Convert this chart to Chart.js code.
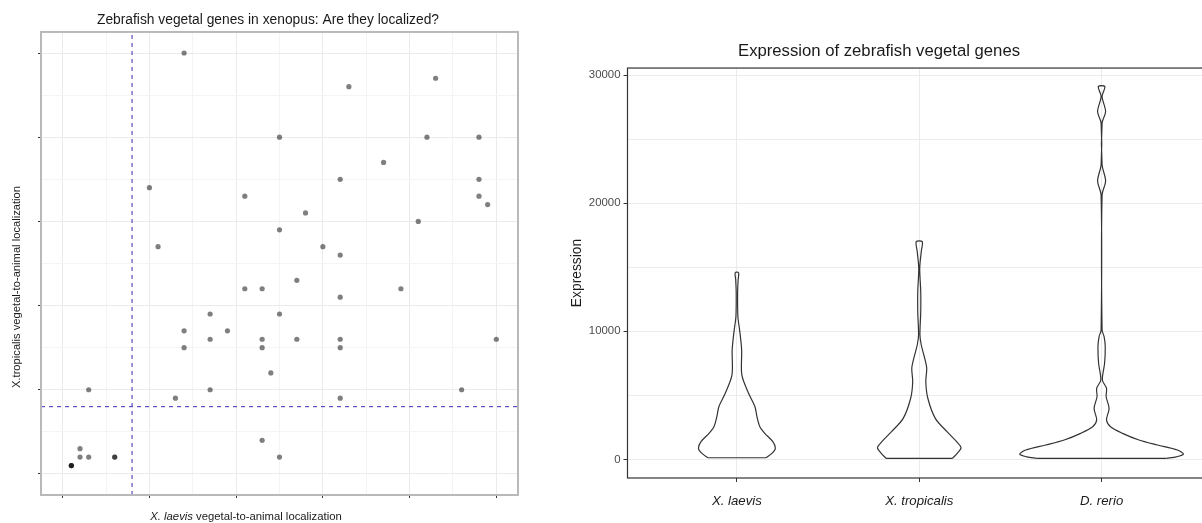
<!DOCTYPE html>
<html>
<head>
<meta charset="utf-8">
<script src="https://cdn.jsdelivr.net/npm/chart.js@4.4.1/dist/chart.umd.min.js"></script>
<style>
    html, body { margin: 0; padding: 0; background: #fff; overflow: hidden; }
    #scatterChart { position: absolute; left: 0; top: 0; }
    #violinChart { position: absolute; left: 540px; top: 0; }
</style>
</head>
<body>
<canvas id="scatterChart" width="536" height="523"></canvas>
<canvas id="violinChart" width="680" height="523"></canvas>
<script>
// ===== left panel: vegetal-to-animal localization per gene =====
const laevisLoc = [1.4, 4.3, 3.3, 2.5, 4.2, 4.8, 3.7, 3.2, 4.8, 1.0, 2.1, 4.8, 4.9, 2.8, 4.1, 2.5, 1.1, 3.0, 3.2,
    2.1, 2.3, 2.7, 3.9, 3.2, 1.7, 2.5, 1.4, 1.9, 1.7, 2.3, 2.7, 3.2, 5.0, 1.4, 2.3, 3.2, 2.4, 0.3, 1.7, 4.6,
    1.3, 3.2, 2.3, 2.5, 0.2, 0.2, 0.3, 0.6, 0.6, 0.1, 0.1, 0.1];
const tropicalisLoc = [5.0, 4.7, 4.6, 4.0, 4.0, 4.0, 3.7, 3.5, 3.5, 3.4, 3.3, 3.3, 3.2, 3.1, 3.0, 2.9, 2.7, 2.7, 2.6,
    2.2, 2.2, 2.3, 2.2, 2.1, 1.9, 1.9, 1.7, 1.7, 1.6, 1.6, 1.6, 1.6, 1.6, 1.5, 1.5, 1.5, 1.2, 1.0, 1.0, 1.0,
    0.9, 0.9, 0.4, 0.2, 0.3, 0.2, 0.2, 0.2, 0.2, 0.1, 0.1, 0.1];
const cutoffLaevis = 0.8;
const cutoffTropicalis = 0.8;
const locTicks = [0, 1, 2, 3, 4, 5];
const locGrid = [0, 0.5, 1, 1.5, 2, 2.5, 3, 3.5, 4, 4.5, 5];

// ===== right panel: expression violins (level -> half width) =====
const species = ['X. laevis', 'X. tropicalis', 'D. rerio'];
const laevisLevels = [125, 470, 860, 1380, 2030, 2550, 3330, 4110, 5160, 6590, 8540, 9970, 11140, 12970, 14010, 14580];
const laevisWidth = [0.159, 0.192, 0.211, 0.197, 0.153, 0.126, 0.110, 0.099, 0.064, 0.027, 0.026, 0.016, 0.0055, 0.0038, 0.0066, 0.0093];
const tropLevels = [80, 470, 910, 1380, 2160, 3200, 4770, 6060, 7110, 7890, 8930, 9710, 11530, 13090, 14920, 16220, 17000];
const tropWidth = [0.182, 0.208, 0.229, 0.205, 0.152, 0.088, 0.047, 0.036, 0.041, 0.030, 0.011, 0.0038, 0.0082, 0.0082, 0.0027, 0.011, 0.0164];
const rerioLevels = [80, 200, 410, 730, 1120, 1510, 2030, 2550, 3070, 3980, 4890, 5550, 6200, 7500, 8800, 9580, 10100,
    20650, 21740, 23000, 26250, 27160, 28330, 29110];
const rerioWidth = [0.356, 0.411, 0.449, 0.416, 0.307, 0.205, 0.115, 0.049, 0.027, 0.041, 0.025, 0.027, 0.0044, 0.0164, 0.020, 0.0137, 0.0027,
    0.0027, 0.022, 0.0027, 0.0027, 0.022, 0.0027, 0.018];
const exprTicks = [0, 10000, 20000, 30000];
const exprGrid = [0, 5000, 10000, 15000, 20000, 25000, 30000];

const FONT = '"Liberation Sans", Arial, Helvetica, sans-serif';

// border drawn round the panel, on top of the data (like ggplot)
const panelBorder = {
    id: 'panelBorder',
    afterDatasetsDraw(chart, args, opts) {
        const { ctx, chartArea: a } = chart;
        ctx.save();
        ctx.strokeStyle = opts.color;
        ctx.lineWidth = opts.width;
        ctx.strokeRect(a.left, a.top, a.right - a.left, a.bottom - a.top);
        ctx.restore();
    }
};

// axis titles of the scatter (x title mixes italic + plain)
const scatterTitles = {
    id: 'scatterTitles',
    afterDraw(chart) {
        const { ctx } = chart;
        ctx.save();
        ctx.fillStyle = '#1a1a1a';
        ctx.textBaseline = 'middle';
        ctx.textAlign = 'left';
        const part1 = 'X. laevis';
        const part2 = ' vegetal-to-animal localization';
        ctx.font = 'italic 11.3px ' + FONT;
        const w1 = ctx.measureText(part1).width;
        ctx.font = '11.3px ' + FONT;
        const w2 = ctx.measureText(part2).width;
        const x = 246 - (w1 + w2) / 2;
        ctx.font = 'italic 11.3px ' + FONT;
        ctx.fillText(part1, x, 517);
        ctx.font = '11.3px ' + FONT;
        ctx.fillText(part2, x + w1, 517);

        ctx.translate(17, 287);
        ctx.rotate(-Math.PI / 2);
        ctx.textAlign = 'center';
        ctx.font = '11.2px ' + FONT;
        ctx.fillText('X.tropicalis vegetal-to-animal localization', 0, 0);
        ctx.restore();
    }
};

// ===== 1. scatter =====
const points = laevisLoc.map((x, i) => ({ x, y: tropicalisLoc[i] }));
const isMajor = v => locTicks.includes(v);
const locAxis = {
    type: 'linear', min: -0.25, max: 5.25,
    afterBuildTicks: s => { s.ticks = locGrid.map(v => ({ value: v })); },
    border: { display: false },
    grid: {
        color: c => isMajor(c.tick.value) ? '#ebebeb' : '#f4f4f4',
        tickColor: c => isMajor(c.tick.value) ? '#333' : 'rgba(0,0,0,0)',
        tickLength: 3
    },
    ticks: { autoSkip: false, callback: () => '' }
};

new Chart(document.getElementById('scatterChart'), {
    type: 'scatter',
    data: {
        datasets: [
            {
                data: [{ x: cutoffLaevis, y: -0.25 }, { x: cutoffLaevis, y: 5.25 }],
                showLine: true, pointRadius: 0, borderColor: '#5a4fc4', borderWidth: 1.2, borderDash: [4, 4]
            },
            {
                data: [{ x: -0.25, y: cutoffTropicalis }, { x: 5.25, y: cutoffTropicalis }],
                showLine: true, pointRadius: 0, borderColor: '#5a4fc4', borderWidth: 1.2, borderDash: [4, 4]
            },
            {
                data: points,
                pointRadius: 2.6,
                pointBackgroundColor: 'rgba(0,0,0,0.5)',
                pointBorderWidth: 0
            }
        ]
    },
    options: {
        responsive: false,
        animation: false,
        layout: { padding: { left: 18, right: 18, top: 0, bottom: 0 } },
        plugins: {
            legend: { display: false },
            tooltip: { enabled: false },
            title: {
                display: true,
                text: 'Zebrafish vegetal genes in xenopus: Are they localized?',
                color: '#1a1a1a',
                font: { family: FONT, size: 13.8, weight: 'normal' },
                padding: { top: 11.7, bottom: 3.7 }
            },
            panelBorder: { color: '#b9b9b9', width: 2 }
        },
        scales: {
            x: { ...locAxis, afterFit: s => { s.height = 28; } },
            y: { ...locAxis, afterFit: s => { s.width = 23; } }
        }
    },
    plugins: [panelBorder, scatterTitles]
});

// ===== 2. violins =====
function violinOutline(pos, levels, widths) {
    const right = levels.map((y, i) => ({ x: pos + widths[i], y }));
    const left = levels.map((y, i) => ({ x: pos - widths[i], y })).reverse();
    return right.concat(left);
}
function violinBase(pos, levels, widths) {
    return [{ x: pos - widths[0], y: levels[0] }, { x: pos + widths[0], y: levels[0] }];
}

const violins = [
    [laevisLevels, laevisWidth],
    [tropLevels, tropWidth],
    [rerioLevels, rerioWidth]
];
const violinSets = [];
violins.forEach(([levels, widths], i) => {
    const pos = i + 1;
    violinSets.push({
        data: violinOutline(pos, levels, widths),
        showLine: true, pointRadius: 0, tension: 0.3,
        borderColor: '#333', borderWidth: 1.2
    });
    violinSets.push({
        data: violinBase(pos, levels, widths),
        showLine: true, pointRadius: 0, tension: 0,
        borderColor: '#333', borderWidth: 1.2
    });
});

new Chart(document.getElementById('violinChart'), {
    type: 'scatter',
    data: { datasets: violinSets },
    options: {
        responsive: false,
        animation: false,
        layout: { padding: { left: 7, right: 9, top: 0, bottom: 0 } },
        plugins: {
            legend: { display: false },
            tooltip: { enabled: false },
            title: {
                display: true,
                text: 'Expression of zebrafish vegetal genes',
                color: '#1a1a1a',
                font: { family: FONT, size: 16.7, weight: 'normal' },
                padding: { top: 41, bottom: 7 }
            },
            panelBorder: { color: '#333', width: 1.2 }
        },
        scales: {
            x: {
                type: 'linear', min: 0.4, max: 3.6,
                afterFit: s => { s.height = 45; },
                afterBuildTicks: s => { s.ticks = species.map((_, i) => ({ value: i + 1 })); },
                border: { display: false },
                grid: { color: '#ebebeb', tickColor: '#333', tickLength: 4 },
                ticks: {
                    autoSkip: false,
                    padding: 11,
                    color: '#1a1a1a',
                    font: { family: FONT, size: 13.2, style: 'italic' },
                    callback: (v, i) => species[i]
                }
            },
            y: {
                type: 'linear', min: -1455, max: 30555,
                afterFit: s => { s.width = 80.5; },
                afterBuildTicks: s => { s.ticks = exprGrid.map(v => ({ value: v })); },
                border: { display: false },
                title: {
                    display: true, text: 'Expression', color: '#1a1a1a',
                    font: { family: FONT, size: 13.8 },
                    padding: { top: 21.7, bottom: 0 }
                },
                grid: {
                    color: '#ebebeb',
                    tickColor: c => exprTicks.includes(c.tick.value) ? '#333' : 'rgba(0,0,0,0)',
                    tickLength: 4
                },
                ticks: {
                    autoSkip: false,
                    padding: 3,
                    color: '#4d4d4d',
                    font: { family: FONT, size: 11.4 },
                    callback: v => exprTicks.includes(v) ? String(v) : ''
                }
            }
        }
    },
    plugins: [panelBorder]
});
</script>
</body>
</html>
